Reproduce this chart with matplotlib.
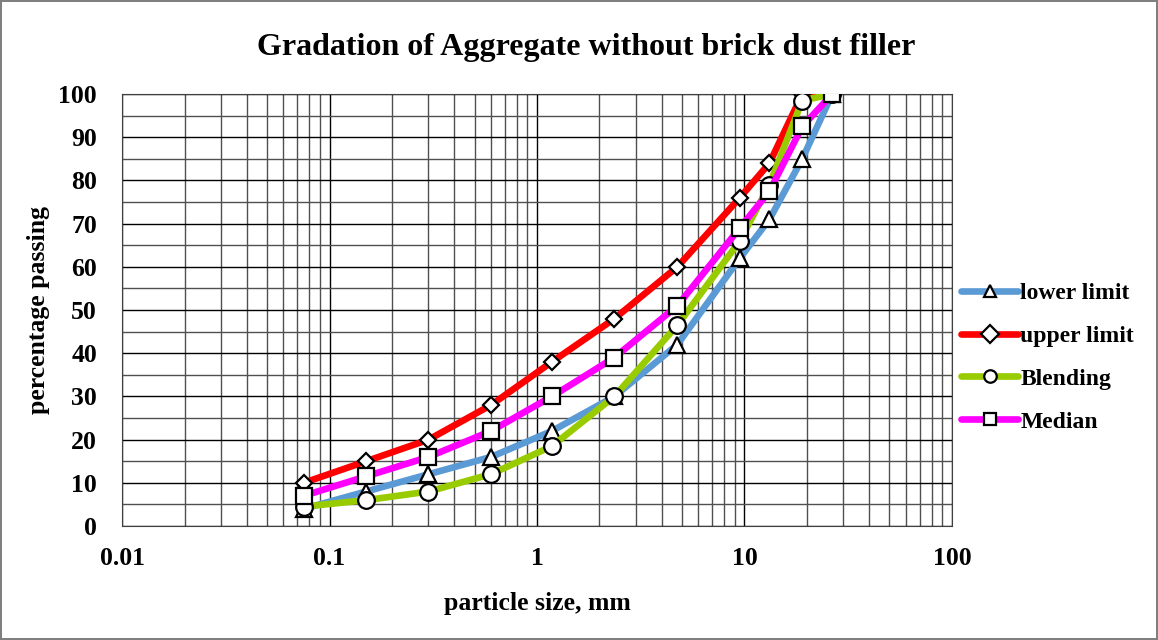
import matplotlib.pyplot as plt
from matplotlib.ticker import FixedLocator, NullFormatter, MultipleLocator

plt.rcParams['font.family'] = ['Liberation Serif', 'DejaVu Serif']
plt.rcParams['font.weight'] = 'bold'

# sieve sizes (mm) and percentage passing
sieve = [0.075, 0.15, 0.3, 0.6, 1.18, 2.36, 4.75, 9.5, 13.2, 19, 26.5]
lower_limit = [4, 8, 12, 16, 22, 30, 42, 62, 71, 85, 100]
upper_limit = [10, 15, 20, 28, 38, 48, 60, 76, 84, 100, 100]
blending = [4.5, 6, 8, 12, 18.5, 30, 46.5, 66, 79, 98.5, 100]
median = [7, 11.5, 16, 22, 30, 39, 51, 69, 77.5, 92.5, 100]

fig = plt.figure(figsize=(11.58, 6.4), dpi=100)
fig.patch.set_edgecolor('#7f7f7f')
fig.patch.set_linewidth(1.5)
ax = fig.add_axes([0.1054, 0.178, 0.7166, 0.675])

series = [
    ('lower limit', lower_limit, '#5b9bd5', '^', 11),
    ('upper limit', upper_limit, '#ff0000', 'D', 8.5),
    ('Blending', blending, '#99cc00', 'o', 12),
    ('Median', median, '#ff00ff', 's', 12),
]
for name, vals, col, mk, ms in series:
    ax.plot(sieve, vals, color=col, lw=4.8, marker=mk, ms=ms,
            mfc='white', mec='black', mew=1.6, label=name,
            solid_capstyle='round', zorder=3)

ax.set_xscale('log')
ax.set_xlim(0.01, 100)
ax.set_ylim(0, 100)
ax.yaxis.set_major_locator(MultipleLocator(10))
ax.yaxis.set_minor_locator(MultipleLocator(5))
ax.xaxis.set_major_locator(FixedLocator([0.01, 0.1, 1, 10, 100]))
ax.xaxis.set_major_formatter(plt.FuncFormatter(lambda v, p: '%g' % v))
ax.xaxis.set_minor_formatter(NullFormatter())
ax.grid(which='major', color='black', lw=1)
ax.grid(which='minor', color='#505050', lw=1)
ax.tick_params(which='both', length=0, labelsize=18.5)
ax.tick_params(axis='x', pad=15)
ax.tick_params(axis='y', pad=18)
for s in ax.spines.values():
    s.set_color('#404040')

fig.text(0.506, 0.925, 'Gradation of Aggregate without brick dust filler',
         fontsize=23, fontweight='bold', ha='center', va='center')
ax.set_xlabel('particle size, mm', fontsize=18.5, fontweight='bold', labelpad=16)
ax.set_ylabel('percentage passing', fontsize=18.5, fontweight='bold', labelpad=6)

leg = ax.legend(loc='center left', bbox_to_anchor=(1.0, 0.39), frameon=False,
                fontsize=17, handlelength=2.4, handletextpad=0.1,
                labelspacing=0.9, borderaxespad=0, borderpad=0.4)
for h in leg.legend_handles:
    h.set_markersize(9)

fig.savefig('out.png', dpi=100)
